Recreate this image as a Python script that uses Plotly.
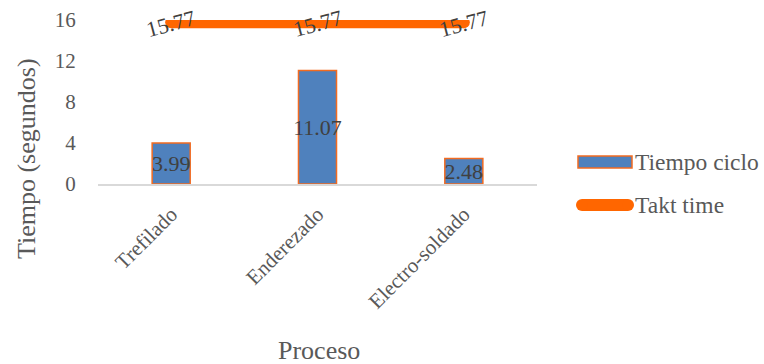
import plotly.graph_objects as go

categories = ["Trefilado", "Enderezado", "Electro-soldado"]
tiempo_ciclo = [3.99, 11.07, 2.48]
takt_time = [15.77, 15.77, 15.77]
y_ticks = [0, 4, 8, 12, 16]

FONT = "Liberation Serif"
GREY = "#595959"
DARK = "#404040"
BLUE = "#4F81BD"
ORANGE_EDGE = "#F26B21"
ORANGE = "#FF6600"

L, R, T, B, W, H = 98, 227, 20, 180, 764, 364
PW, PH = W - L - R, H - T - B


def px(xp):
    return (xp - L) / PW


def py(yp):
    return (H - B - yp) / PH


fig = go.Figure()
fig.add_trace(go.Bar(
    x=categories, y=tiempo_ciclo, name="Tiempo ciclo",
    width=0.26, showlegend=False,
    marker=dict(color=BLUE, line=dict(color=ORANGE_EDGE, width=1.5)),
    text=[f"{v:.2f}" for v in tiempo_ciclo],
    textposition="inside", insidetextanchor="middle", constraintext="none",
    textfont=dict(family=FONT, size=22, color=DARK),
    textangle=0,
))
fig.add_trace(go.Scatter(
    x=categories, y=takt_time, name="Takt time", mode="lines+markers",
    showlegend=False,
    line=dict(color=ORANGE, width=12),
    marker=dict(color=ORANGE, size=12),
))
for c, v in zip(categories, takt_time):
    fig.add_annotation(x=c, y=v, text=f"{v:.2f}", showarrow=False,
                       textangle=-15, yshift=-1,
                       font=dict(family=FONT, size=22, color=DARK))

# axis titles
fig.add_annotation(xref="paper", yref="paper", x=px(26), y=py(159),
                   xanchor="center", yanchor="middle",
                   text="Tiempo (segundos)", textangle=-90, showarrow=False,
                   font=dict(family=FONT, size=26, color=GREY))
fig.add_annotation(xref="paper", yref="paper", x=px(319), y=py(350),
                   xanchor="center", yanchor="middle",
                   text="Proceso", showarrow=False,
                   font=dict(family=FONT, size=26, color=GREY))

# custom legend
fig.add_shape(type="rect", xref="paper", yref="paper",
              x0=px(578), x1=px(632), y0=py(168), y1=py(156),
              fillcolor=BLUE, line=dict(color=ORANGE_EDGE, width=1.5))
fig.add_annotation(xref="paper", yref="paper", x=px(633), y=py(162),
                   xanchor="left", yanchor="middle", text="Tiempo ciclo",
                   showarrow=False, font=dict(family=FONT, size=23.5, color=GREY))
fig.add_shape(type="line", xref="paper", yref="paper",
              x0=px(582), x1=px(628), y0=py(205), y1=py(205),
              line=dict(color=ORANGE, width=12))
for cx in (582, 628):
    fig.add_shape(type="circle", xref="paper", yref="paper",
                  x0=px(cx - 6), x1=px(cx + 6), y0=py(211), y1=py(199),
                  fillcolor=ORANGE, line=dict(width=0))
fig.add_annotation(xref="paper", yref="paper", x=px(633), y=py(205),
                   xanchor="left", yanchor="middle", text="Takt time",
                   showarrow=False, font=dict(family=FONT, size=23.5, color=GREY))

fig.update_layout(
    width=W, height=H,
    margin=dict(l=L, r=R, t=T, b=B, autoexpand=False),
    paper_bgcolor="white", plot_bgcolor="white",
    font=dict(family=FONT, color=GREY),
    showlegend=False,
)
fig.update_xaxes(
    tickangle=-45, tickfont=dict(family=FONT, size=21, color=GREY),
    showline=True, linecolor="#D9D9D9", linewidth=1.5, ticks="",
    ticklabelstandoff=8, automargin=False,
)
fig.update_yaxes(
    range=[0, 16], tickvals=y_ticks, showgrid=False, zeroline=False,
    tickfont=dict(family=FONT, size=21, color=GREY), ticks="outside", ticklen=17,
    tickcolor="rgba(0,0,0,0)", automargin=False,
)
fig.write_html("out.html", config={"displayModeBar": False},
               post_script="document.body.style.margin='0';document.body.style.overflow='hidden';")
